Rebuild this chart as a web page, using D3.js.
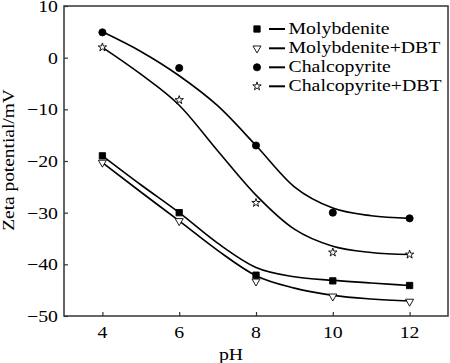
<!DOCTYPE html>
<html><head><meta charset="utf-8">
<script src="https://cdn.jsdelivr.net/npm/d3@7"></script>
<style>body{margin:0;background:#fff}svg{display:block}text{font-family:"Liberation Serif","Times New Roman",serif;fill:#000}</style>
</head><body>
<svg id="c" width="450" height="363"></svg>
<script>
const pH = [4, 6, 8, 10, 12];
const molybdenite = [-19, -30, -42.1, -43.2, -44.1];
const molybdeniteDBT = [-20.3, -31.6, -43.3, -46.2, -47.2];
const chalcopyrite = [4.9, -2, -17, -30, -31.1];
const chalcopyriteDBT = [2, -8.2, -28.1, -37.7, -38.1];

const fitPH = [4, 5, 6, 7, 8, 9, 10, 11, 12];
const molybdeniteFit = [-19, -24.6, -30, -35.9, -40.6, -42.4, -43.1, -43.6, -44.1];
const molybdeniteDBTFit = [-20.3, -26, -31.6, -37.3, -42.2, -44.6, -46, -46.7, -47.1];
const chalcopyriteFit = [5, 1.2, -3.5, -9.3, -17, -25, -29.1, -30.6, -31.1];
const chalcopyriteDBTFit = [2, -3.2, -9.2, -18, -26.6, -33.2, -36.5, -37.7, -38.1];

const xTicks = [4, 6, 8, 10, 12];
const yTicks = [-50, -40, -30, -20, -10, 0, 10];
const seriesNames = ["Molybdenite", "Molybdenite+DBT", "Chalcopyrite", "Chalcopyrite+DBT"];

const svg = d3.select("#c");
const L = 64, R = 448, T = 6, B = 316;
const x = d3.scaleLinear().domain([3, 13]).range([L, R]);
const y = d3.scaleLinear().domain([-50, 10]).range([B, T]);
const SX = 1.2, FS = 16.5;

// axes
const ax = svg.append("g").attr("transform", `translate(0,${B})`)
  .call(d3.axisBottom(x).tickValues(xTicks).tickSizeInner(-4).tickSizeOuter(0).tickFormat(""));
const ay = svg.append("g").attr("transform", `translate(${L},0)`)
  .call(d3.axisLeft(y).tickValues(yTicks).tickSizeInner(-4).tickSizeOuter(0).tickFormat(""));
[ax, ay].forEach(g => { g.select(".domain").remove(); g.selectAll("line").attr("stroke", "#333").attr("stroke-width", 1.2); });
svg.append("rect").attr("x", L).attr("y", T).attr("width", R - L).attr("height", B - T)
  .attr("fill", "none").attr("stroke", "#333").attr("stroke-width", 1.5);

// tick labels
xTicks.forEach(v => {
  svg.append("text").attr("transform", `translate(${x(v)},338) scale(${SX},1)`)
    .attr("text-anchor", "middle").attr("font-size", FS).text(v);
});
yTicks.forEach(v => {
  svg.append("text").attr("transform", `translate(58,${y(v) + 6}) scale(${SX},1)`)
    .attr("text-anchor", "end").attr("font-size", FS).text(v < 0 ? "\u2212" + Math.abs(v) : v);
});
svg.append("text").attr("transform", `translate(231,360) scale(${SX},1)`)
  .attr("text-anchor", "middle").attr("font-size", FS).text("pH");
svg.append("text").attr("transform", `translate(13.5,160) rotate(-90) scale(${SX * 0.98},1)`)
  .attr("text-anchor", "middle").attr("font-size", FS).text("Zeta potential/mV");

// curves
const line = d3.line().x((d, i) => x(fitPH[i])).y(d => y(d)).curve(d3.curveMonotoneX);
[molybdeniteFit, molybdeniteDBTFit, chalcopyriteFit, chalcopyriteDBTFit].forEach(s => {
  svg.append("path").attr("d", line(s)).attr("fill", "none").attr("stroke", "#000").attr("stroke-width", 1.6);
});

// markers
const sym = [
  {t: d3.symbolSquare, size: 40, fill: "#000", rot: 0},
  {t: d3.symbolTriangle, size: 28, fill: "#fff", rot: 180},
  {t: d3.symbolCircle, size: 40, fill: "#000", rot: 0},
  {t: d3.symbolStar, size: 22, fill: "#fff", rot: 0}
];
function marker(g, k, cx, cy) {
  g.append("path").attr("d", d3.symbol().type(sym[k].t).size(sym[k].size)())
    .attr("transform", `translate(${cx},${cy}) rotate(${sym[k].rot})`)
    .attr("fill", sym[k].fill).attr("stroke", "#000").attr("stroke-width", 0.9);
}
[molybdenite, molybdeniteDBT, chalcopyrite, chalcopyriteDBT].forEach((s, k) => {
  s.forEach((v, i) => marker(svg, k, x(pH[i]), y(v)));
});

// legend
const legY = [29, 48.3, 67.3, 86.3];
seriesNames.forEach((n, k) => {
  marker(svg, k, 257, legY[k]);
  svg.append("line").attr("x1", 269).attr("x2", 285).attr("y1", legY[k]).attr("y2", legY[k])
    .attr("stroke", "#000").attr("stroke-width", 2);
  svg.append("text").attr("transform", `translate(288.5,${legY[k] + 5}) scale(${SX},1)`)
    .attr("font-size", FS).text(n);
});
</script>
</body></html>
